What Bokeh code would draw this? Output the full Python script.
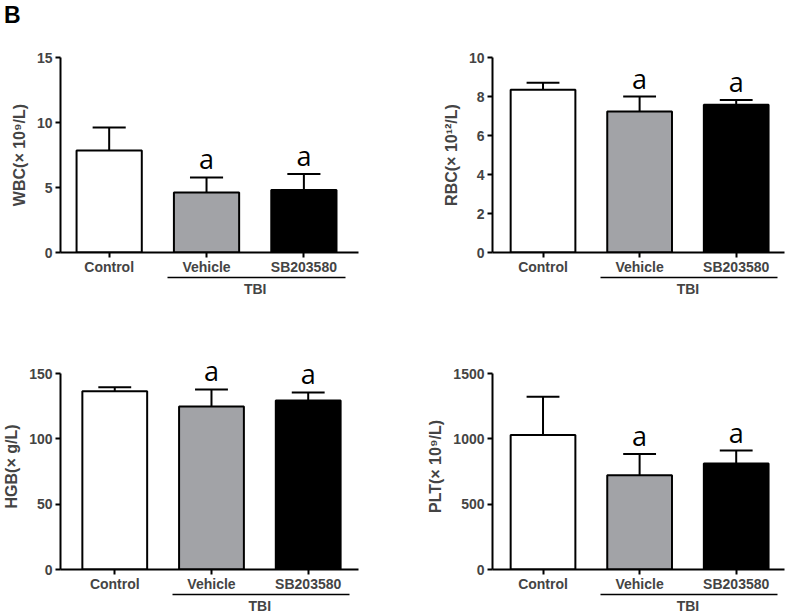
import numpy as np
from bokeh.plotting import figure
from bokeh.layouts import gridplot, column
from bokeh.models import LinearAxis, FixedTicker, Range1d, Div
from bokeh.core.properties import value
from bokeh.embed import file_html
from bokeh.resources import INLINE

groups = ["Control", "Vehicle", "SB203580"]
bar_colors = ["#ffffff", "#a2a3a7", "#000000"]
sig_labels = ["", "a", "a"]
group_label = "TBI"
panel_letter = "B"

wbc_mean = [7.85, 4.62, 4.80]
wbc_upper = [9.62, 5.77, 6.03]
rbc_mean = [8.35, 7.23, 7.58]
rbc_upper = [8.70, 8.00, 7.82]
hgb_mean = [136.5, 124.8, 129.3]
hgb_upper = [139.5, 137.8, 135.5]
plt_mean = [1030, 722, 812]
plt_upper = [1322, 884, 910]

wbc_ticks = [0, 5, 10, 15]
rbc_ticks = [0, 2, 4, 6, 8, 10]
hgb_ticks = [0, 50, 100, 150]
plt_ticks = [0, 500, 1000, 1500]

FONT = "Liberation Sans"
HEADER_H = 26


def panel(ylabel, means, uppers, yticks, x_start, x_end, width, height,
          border_left, axis_top, frame_w, axis_h, pad):
    idx = np.arange(len(groups))
    means = np.array(means, dtype=float)
    uppers = np.array(uppers, dtype=float)
    ymax = yticks[-1]
    frame_h = axis_h + pad
    y_end = ymax * frame_h / axis_h
    border_top = axis_top - pad
    p = figure(width=width, height=height, output_backend="svg", toolbar_location=None,
               x_range=Range1d(x_start, x_end), y_range=Range1d(yticks[0], y_end),
               min_border_left=border_left, min_border_top=border_top,
               min_border_right=width - border_left - frame_w,
               min_border_bottom=height - border_top - frame_h)
    p.outline_line_color = None
    p.xgrid.visible = False
    p.ygrid.visible = False
    p.background_fill_color = "white"
    p.border_fill_color = "white"

    # error bars (upper only)
    p.segment(x0=idx, y0=means, x1=idx, y1=uppers, line_color="black", line_width=2)
    cap = 0.17
    p.segment(x0=idx - cap, y0=uppers, x1=idx + cap, y1=uppers, line_color="black", line_width=2)
    p.vbar(x=idx, top=means, bottom=0, width=0.67, fill_color=bar_colors,
           line_color="black", line_width=2)

    sig_idx = [i for i, s in enumerate(sig_labels) if s]
    p.text(x=idx[sig_idx], y=uppers[sig_idx], text=[sig_labels[i] for i in sig_idx],
           text_align="center", text_baseline="bottom", y_offset=0,
           text_font=value("Open Sans"), text_font_size="27px", text_color="black")

    ya = p.yaxis[0]
    ya.ticker = FixedTicker(ticks=yticks)
    ya.bounds = (yticks[0], ymax)
    ya.minor_tick_line_color = None
    ya.major_tick_in = 0
    ya.major_tick_out = 5
    ya.major_tick_line_width = 2
    ya.axis_line_width = 2
    ya.major_label_text_font = FONT
    ya.major_label_text_font_style = "bold"
    ya.major_label_text_font_size = "14px"
    ya.major_label_standoff = 3
    ya.axis_label = ylabel
    ya.axis_label_text_font = FONT
    ya.axis_label_text_font_style = "bold"
    ya.axis_label_text_font_size = "16px"
    ya.axis_label_standoff = 6

    xa = p.xaxis[0]
    xa.ticker = FixedTicker(ticks=list(idx))
    xa.major_label_overrides = {int(i): g for i, g in zip(idx, groups)}
    xa.minor_tick_line_color = None
    xa.major_tick_in = 0
    xa.major_tick_out = 5
    xa.major_tick_line_width = 2
    xa.axis_line_width = 2
    xa.major_label_text_font = FONT
    xa.major_label_text_font_style = "bold"
    xa.major_label_text_font_size = "14px"
    xa.major_label_standoff = 1

    xb = LinearAxis(ticker=FixedTicker(ticks=[1.5]), bounds=(0.6, 2.43),
                    major_label_overrides={1.5: group_label})
    xb.major_tick_in = 0
    xb.major_tick_out = 0
    xb.minor_tick_line_color = None
    xb.major_tick_line_color = None
    xb.axis_line_width = 1.5
    xb.major_label_text_font = FONT
    xb.major_label_text_font_style = "bold"
    xb.major_label_text_font_size = "14px"
    xb.major_label_standoff = 3
    p.add_layout(xb, "below")
    return p


p1 = panel("WBC(× 10⁹/L)", wbc_mean, wbc_upper, wbc_ticks, -0.5, 2.561,
           396, 304 - HEADER_H, 58, 57 - HEADER_H, 300, 195, 0)
p2 = panel("RBC(× 10¹²/L)", rbc_mean, rbc_upper, rbc_ticks, -0.523, 2.5,
           392, 304 - HEADER_H, 96, 57 - HEADER_H, 292, 195, 0)
p3 = panel("HGB(× g/L)", hgb_mean, hgb_upper, hgb_ticks, -0.561, 2.52,
           396, 312, 56, 69, 302, 196, 10)
p4 = panel("PLT(× 10⁹/L)", plt_mean, plt_upper, plt_ticks, -0.523, 2.5,
           392, 312, 96, 69, 292, 196, 10)

header = Div(
    text=('<div style="font-family:\'Liberation Sans\',Arial,sans-serif;font-weight:bold;'
          'font-size:23px;line-height:30px;margin-left:4px;color:black;">'
          + panel_letter + '</div>'),
    width=100, height=HEADER_H, margin=0)

grid = gridplot([[p1, p2], [p3, p4]], toolbar_location=None)
layout = column(header, grid, spacing=0)

open("out.html", "w").write(file_html(layout, INLINE))
